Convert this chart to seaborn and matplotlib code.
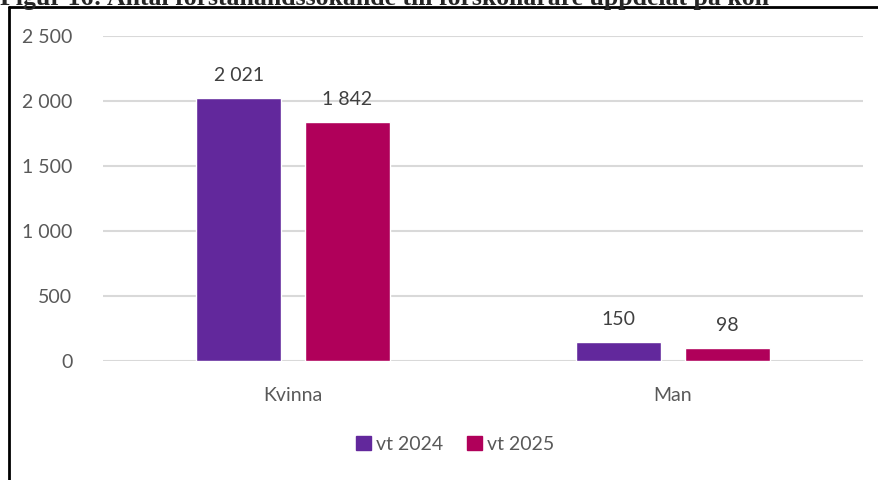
import numpy as np
import pandas as pd
import matplotlib
matplotlib.use('Agg')
import matplotlib.pyplot as plt
import seaborn as sns
from matplotlib.lines import Line2D

# Data
categories = ['Kvinna', 'Man']
periods = ['vt 2024', 'vt 2025']
values_2024 = [2021, 150]
values_2025 = [1842, 98]
palette = ['#62289C', '#B0005A']
y_ticks = [0, 500, 1000, 1500, 2000, 2500]

title = 'Figur 16: Antal förstahandssökande till förskollärare uppdelat på kön'

df = pd.DataFrame({
    'kon': categories * 2,
    'period': [periods[0]] * 2 + [periods[1]] * 2,
    'antal': values_2024 + values_2025,
})

sns.set_style('white')
plt.rcParams['font.family'] = ['Lato', 'DejaVu Sans']

text_color = '#595959'

fig = plt.figure(figsize=(8.79, 4.8), dpi=100)
ax = fig.add_axes([0.1172, 0.2479, 0.8646, 0.6771])

sns.barplot(data=df, x='kon', y='antal', hue='period', palette=palette,
            width=0.571, gap=0.216, ax=ax, legend=True, saturation=1)

def fmt(v):
    return f'{int(v):,}'.replace(',', ' ')

for cont in ax.containers:
    labels = [fmt(b.get_height()) for b in cont]
    ax.bar_label(cont, labels=labels, padding=10, fontsize=14, color='#404040')

ax.set_ylim(0, 2500)
ax.set_yticks(y_ticks)
ax.set_yticklabels([fmt(t) for t in y_ticks], fontsize=14, color=text_color)
ax.tick_params(axis='x', labelsize=14, labelcolor=text_color, length=0, pad=19)
ax.tick_params(axis='y', length=0, pad=22)
ax.set_xlabel('')
ax.set_ylabel('')
ax.grid(axis='y', color='#d9d9d9', linewidth=1.5)
ax.set_axisbelow(True)
for s in ax.spines.values():
    s.set_visible(False)

ax.legend_.remove()
handles = [plt.Rectangle((0, 0), 1, 1, color=c) for c in palette]
fig.legend(handles, periods, loc='center', bbox_to_anchor=(0.518, 0.074),
           ncol=2, frameon=False, fontsize=14, handlelength=0.75,
           handleheight=0.75, handletextpad=0.3, columnspacing=1.2,
           labelcolor=text_color)

# frame around the chart and the caption above it (clipped at the top, as in the source)
fig.add_artist(Line2D([0.0102, 0.0102], [0, 0.985], color='black', linewidth=2,
                      transform=fig.transFigure))
fig.add_artist(Line2D([0.0102, 1.0], [0.985, 0.985], color='black', linewidth=2,
                      transform=fig.transFigure))
fig.text(0.0, 0.9895, title, fontsize=18.5, fontweight='bold',
         family=['Liberation Serif', 'DejaVu Serif'], va='baseline', ha='left')

fig.savefig('out.png', dpi=100)
